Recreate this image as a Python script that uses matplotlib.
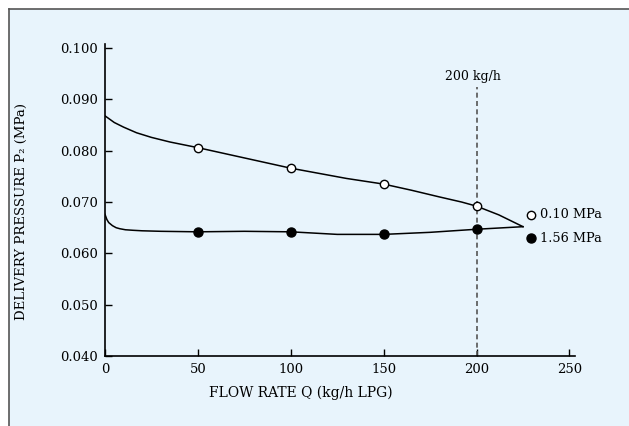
"""Delivery pressure vs flow rate for two inlet pressures."""

import matplotlib.pyplot as plt
from matplotlib.patches import Rectangle
from matplotlib.lines import Line2D

plt.rcParams["font.family"] = ["DejaVu Serif"]

# curve traces (kg/h, MPa)
low_inlet_x = [0, 5, 10, 17, 25, 35, 50, 65, 80, 100, 115, 130, 150, 165, 180, 192, 200, 212, 225]
low_inlet_y = [0.0868, 0.0855, 0.0846, 0.0835, 0.0826, 0.0817, 0.0806, 0.0794, 0.0782, 0.0766,
               0.0756, 0.0746, 0.0735, 0.0723, 0.0710, 0.0700, 0.0692, 0.0675, 0.0652]
high_inlet_x = [0, 1, 2, 4, 6, 8, 11, 15, 20, 30, 50, 75, 100, 125, 150, 175, 200, 225]
high_inlet_y = [0.0676, 0.0666, 0.0660, 0.0654, 0.0650, 0.0648, 0.0646, 0.0645, 0.0644, 0.0643,
                0.0642, 0.0643, 0.0642, 0.0637, 0.0637, 0.0641, 0.0647, 0.0652]

# measured points
marker_x = [50, 100, 150, 200]
low_inlet_pts = [0.0806, 0.0766, 0.0735, 0.0692]
high_inlet_pts = [0.0642, 0.0642, 0.0637, 0.0647]

x_ticks = [0, 50, 100, 150, 200, 250]
y_ticks = [0.040, 0.050, 0.060, 0.070, 0.080, 0.090, 0.100]
legend_labels = ["0.10 MPa", "1.56 MPa"]
rated_flow = 200

bg = "#e8f4fc"
W, H = 629, 426

fig = plt.figure(figsize=(W / 100, H / 100), dpi=100)
fig.patch.set_facecolor("white")
fig.patches.append(Rectangle((9 / W, 0), 1, 1 - 9 / H, transform=fig.transFigure,
                             facecolor=bg, edgecolor="none", zorder=-2))
fig.add_artist(Line2D([9 / W, 9 / W], [0, 1 - 9 / H], color="#555555", lw=1.2))
fig.add_artist(Line2D([9 / W, 1], [1 - 9 / H, 1 - 9 / H], color="#555555", lw=1.2))

ax = fig.add_axes([105 / W, (H - 356) / H, (575 - 105) / W, (356 - 44) / H])
ax.set_facecolor("none")
ax.set_xlim(0, 253)
ax.set_ylim(0.040, 0.1008)

for s in ["top", "right"]:
    ax.spines[s].set_visible(False)
for s in ["left", "bottom"]:
    ax.spines[s].set_linewidth(1.2)

ax.set_xticks(x_ticks)
ax.set_yticks(y_ticks)
ax.set_yticklabels([f"{v:.3f}" for v in y_ticks])
ax.tick_params(direction="in", length=5, width=1, labelsize=9.5, pad=5)

ax.plot(low_inlet_x, low_inlet_y, color="black", lw=1.1, solid_joinstyle="round")
ax.plot(high_inlet_x, high_inlet_y, color="black", lw=1.1, solid_joinstyle="round")
ax.plot(marker_x, low_inlet_pts, "o", ms=6, mfc="white", mec="black", mew=1, zorder=3)
ax.plot(marker_x, high_inlet_pts, "o", ms=6.5, mfc="black", mec="black", zorder=3)

ax.plot([rated_flow, rated_flow], [0.040, 0.0925], color="#555555", lw=1.2, ls=(0, (3, 2)))
ax.text(rated_flow - 2, 0.0945, f"{rated_flow} kg/h", ha="center", va="center", fontsize=9)

ax.plot([229.5], [0.0675], "o", ms=6, mfc="white", mec="black", mew=1, clip_on=False)
ax.plot([229.5], [0.0629], "o", ms=6.5, mfc="black", mec="black", clip_on=False)
ax.text(234, 0.0675, legend_labels[0], va="center", fontsize=9.3)
ax.text(234, 0.0629, legend_labels[1], va="center", fontsize=9.3)

fig.text(301 / W, 1 - 393 / H, "FLOW RATE Q (kg/h LPG)", ha="center", va="center", fontsize=10)
fig.text(21 / W, 1 - 212 / H, "DELIVERY PRESSURE P₂ (MPa)", ha="center", va="center",
         rotation=90, fontsize=9.5)

fig.savefig("out.png", dpi=100, facecolor=fig.get_facecolor())
